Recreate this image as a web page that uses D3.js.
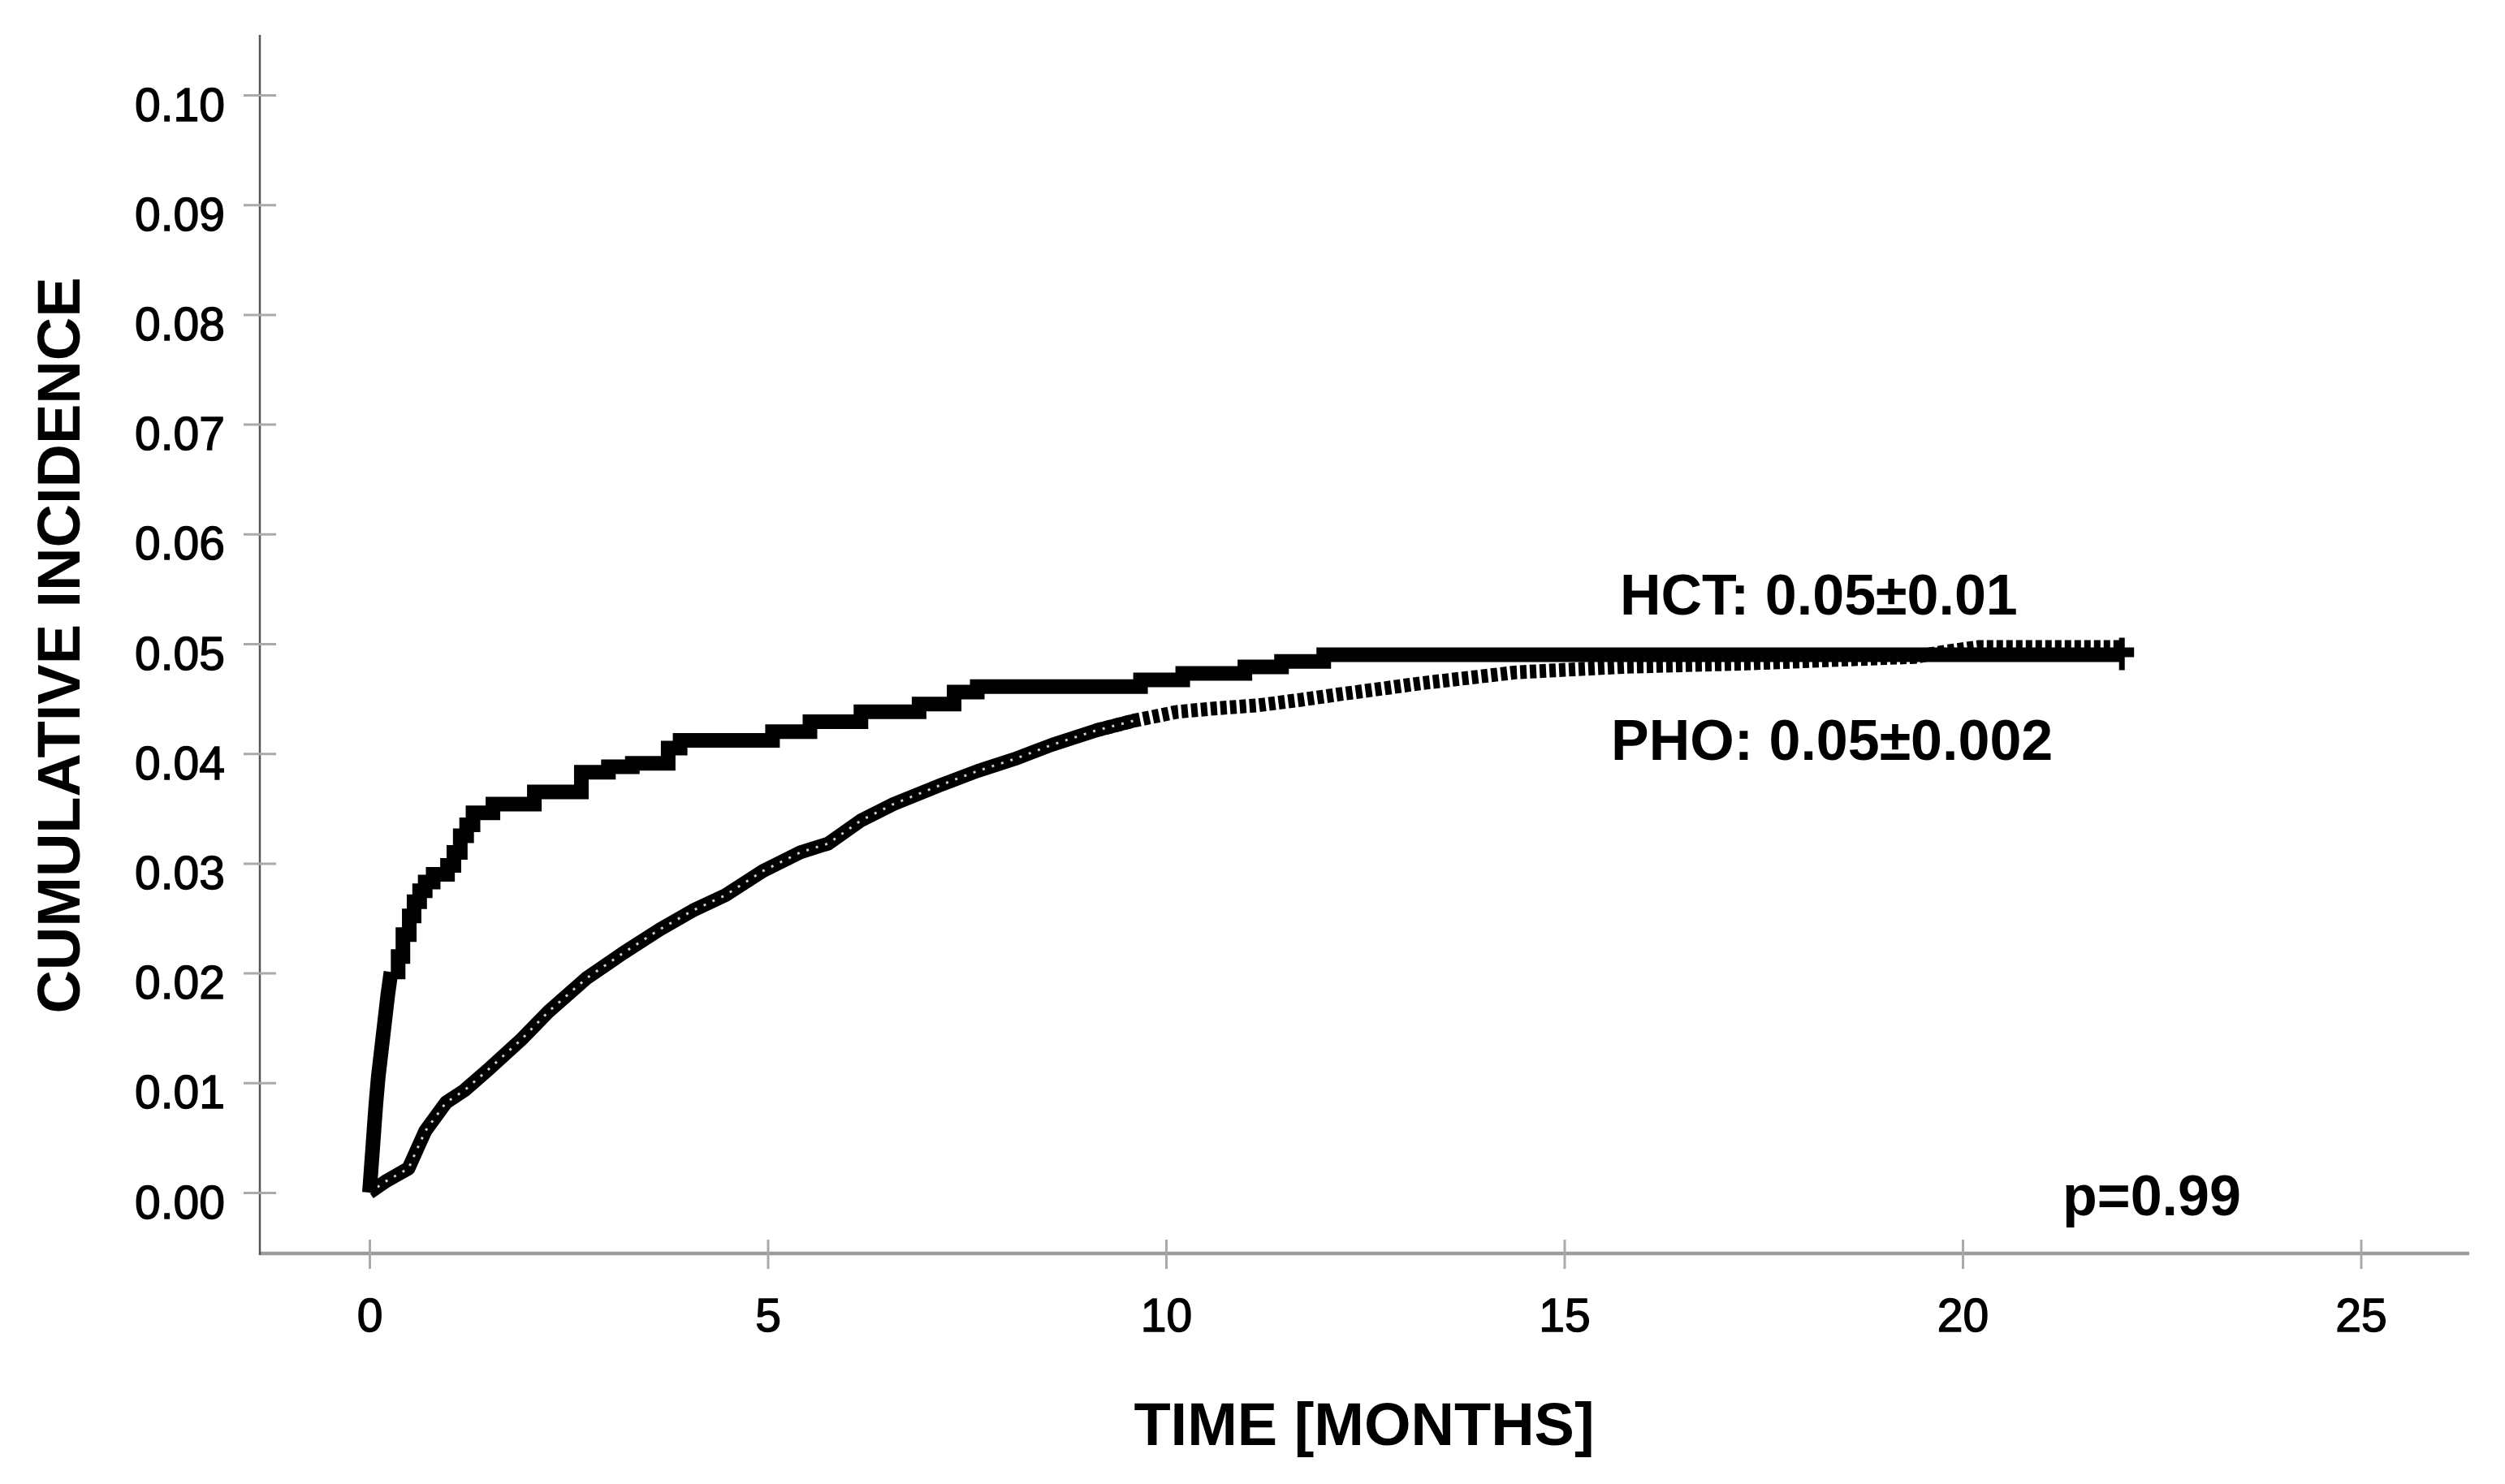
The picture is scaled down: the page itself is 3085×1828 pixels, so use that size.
<!DOCTYPE html>
<html>
<head>
<meta charset="utf-8">
<script src="https://cdn.jsdelivr.net/npm/d3@7"></script>
<style>
html,body{margin:0;padding:0;background:#fff;}
svg{display:block;}
</style>
</head>
<body>
<svg id="chart" width="3085" height="1828"></svg>
<script>
// ---- data ----
const hctTime  = [0, 0.02, 0.05, 0.08, 0.11, 0.15, 0.19, 0.23, 0.27, 0.36, 0.42, 0.50, 0.56, 0.63, 0.70, 0.80, 0.98, 1.06, 1.14, 1.22, 1.30, 1.55, 2.07, 2.66, 3.00, 3.30, 3.75, 3.90, 5.06, 5.53, 6.17, 6.90, 7.34, 7.63, 9.68, 10.21, 10.99, 11.45, 11.98, 22.0];
const hctValue = [0, 0.002, 0.005, 0.008, 0.0105, 0.013, 0.0155, 0.018, 0.0201, 0.0215, 0.0235, 0.0252, 0.0265, 0.0275, 0.0283, 0.0290, 0.0298, 0.0310, 0.0325, 0.0335, 0.0346, 0.0354, 0.0365, 0.0383, 0.0388, 0.0391, 0.0405, 0.0412, 0.0420, 0.0429, 0.0438, 0.0445, 0.0456, 0.0461, 0.0467, 0.0473, 0.0479, 0.0484, 0.0490, 0.0490];

const phoTime  = [0, 0.20, 0.49, 0.70, 0.96, 1.19, 1.49, 1.90, 2.25, 2.72, 3.18, 3.65, 4.06, 4.47, 4.94, 5.41, 5.76, 6.17, 6.58, 7.16, 7.63, 8.10, 8.57, 9.12, 9.60, 10.14, 10.60, 11.16, 11.70, 12.18, 12.70, 13.20, 14.40, 15.75, 17.28, 18.30, 19.40, 19.80, 20.20, 22.0];
const phoValue = [0, 0.0010, 0.0022, 0.0056, 0.0082, 0.0093, 0.0112, 0.0139, 0.0165, 0.0195, 0.0218, 0.0240, 0.0257, 0.0271, 0.0293, 0.0310, 0.0318, 0.0339, 0.0354, 0.0371, 0.0384, 0.0395, 0.0408, 0.0421, 0.0430, 0.0438, 0.0441, 0.0444, 0.0449, 0.0454, 0.0459, 0.0464, 0.0474, 0.0479, 0.0482, 0.0485, 0.0488, 0.0493, 0.0497, 0.0497];

const xTicks = [0, 5, 10, 15, 20, 25];
const yTicks = [0.00, 0.01, 0.02, 0.03, 0.04, 0.05, 0.06, 0.07, 0.08, 0.09, 0.10];
const xTitle = "TIME [MONTHS]";
const yTitle = "CUMULATIVE INCIDENCE";
const hctLabel = "HCT: 0.05\u00B10.01";
const phoLabel = "PHO: 0.05\u00B10.002";
const pLabel = "p=0.99";
const endTime = 22;

// ---- drawing ----
const FONT = "'Liberation Sans', Arial, Helvetica, sans-serif";
const svg = d3.select("#chart");
svg.append("rect").attr("width", 3085).attr("height", 1828).attr("fill", "#fff");

const x = d3.scaleLinear().domain([0, 25]).range([455, 2907.5]);
const y = d3.scaleLinear().domain([0, 0.10]).range([1469, 117]);

const axisX0 = 320, axisY0 = 1544;

// axis lines
svg.append("line").attr("x1", axisX0).attr("x2", 3041).attr("y1", axisY0).attr("y2", axisY0)
  .attr("stroke", "#9c9c9c").attr("stroke-width", 4.5);
svg.append("line").attr("x1", axisX0).attr("x2", axisX0).attr("y1", 43).attr("y2", axisY0 + 2)
  .attr("stroke", "#555").attr("stroke-width", 2.5);

// y axis
const gy = svg.append("g").attr("transform", `translate(${axisX0},0)`)
  .call(d3.axisLeft(y).tickValues(yTicks).tickFormat(d3.format(".2f")).tickSize(20).tickPadding(23));
gy.select(".domain").remove();
gy.attr("font-family", FONT).attr("font-size", 57);
gy.selectAll(".tick line").attr("x1", 20).attr("stroke", "#aaa").attr("stroke-width", 3);
gy.selectAll(".tick text").attr("dy", 0).attr("y", 31).attr("fill", "#000")
  .attr("stroke", "#000").attr("stroke-width", 1.4);

// x axis
const gx = svg.append("g").attr("transform", `translate(0,${axisY0})`)
  .call(d3.axisBottom(x).tickValues(xTicks).tickFormat(d3.format("d")).tickSize(19));
gx.select(".domain").remove();
gx.attr("font-family", FONT).attr("font-size", 57);
gx.selectAll(".tick line").attr("y1", -17).attr("stroke", "#aaa").attr("stroke-width", 3);
gx.selectAll(".tick text").attr("dy", 0).attr("y", 96).attr("fill", "#000")
  .attr("stroke", "#000").attr("stroke-width", 1.4);

// titles
svg.append("text").attr("x", 1680).attr("y", 1780).attr("text-anchor", "middle")
  .attr("font-family", FONT).attr("font-weight", "bold").attr("font-size", 74).text(xTitle);
svg.append("text").attr("transform", "translate(98,795) rotate(-90)").attr("text-anchor", "middle")
  .attr("font-family", FONT).attr("font-weight", "bold").attr("font-size", 74).text(yTitle);

// data
const hct = hctTime.map((t, i) => ({t, v: hctValue[i]}));
const pho = phoTime.map((t, i) => ({t, v: phoValue[i]}));

const stepLine = d3.line().x(d => x(d.t)).y(d => y(d.v)).curve(d3.curveStepAfter);
const linLine = d3.line().x(d => x(d.t)).y(d => y(d.v)).curve(d3.curveLinear);

const curves = svg.append("g");

// PHO: chain part (dense censoring, drawn as thick line with small white holes)
const phoChain = pho.filter(d => d.t <= 9.6);
const phoComb = pho.filter(d => d.t >= 9.12);
curves.append("path").datum(phoChain).attr("d", linLine)
  .attr("fill", "none").attr("stroke", "#000").attr("stroke-width", 17).attr("stroke-linejoin", "round");
curves.append("path").datum(phoChain).attr("d", linLine)
  .attr("fill", "none").attr("stroke", "#fff").attr("stroke-opacity", 0.8).attr("stroke-width", 3)
  .attr("stroke-dasharray", "3 9");
// PHO: comb part (censor ticks)
curves.append("path").datum(phoComb).attr("d", linLine)
  .attr("fill", "none").attr("stroke", "#000").attr("stroke-width", 17).attr("stroke-dasharray", "8 4");

// HCT: steep early part (many tiny steps, appears as a line) + visible step part
const hctEarly = hct.filter(d => d.t <= 0.27);
const hctLate = hct.filter(d => d.t >= 0.27);
curves.append("path").datum(hctEarly).attr("d", linLine)
  .attr("fill", "none").attr("stroke", "#000").attr("stroke-width", 18)
  .attr("stroke-linejoin", "round");
curves.append("path").datum(hctLate).attr("d", stepLine)
  .attr("fill", "none").attr("stroke", "#000").attr("stroke-width", 18)
  .attr("stroke-linejoin", "miter");

// end censor marker
const ex = x(endTime), ey = y(hctValue[hctValue.length - 1]);
curves.append("line").attr("x1", ex).attr("x2", ex).attr("y1", ey - 21).attr("y2", ey + 19)
  .attr("stroke", "#000").attr("stroke-width", 7);
curves.append("line").attr("x1", ex).attr("x2", ex + 15).attr("y1", ey - 3).attr("y2", ey - 3)
  .attr("stroke", "#000").attr("stroke-width", 12);

// annotations
svg.append("text").attr("x", 1995).attr("y", 757).attr("font-family", FONT).attr("font-weight", "bold")
  .attr("font-size", 70).text(hctLabel);
svg.append("text").attr("x", 1984).attr("y", 936).attr("font-family", FONT).attr("font-weight", "bold")
  .attr("font-size", 70).text(phoLabel);
svg.append("text").attr("x", 2540).attr("y", 1497).attr("font-family", FONT).attr("font-weight", "bold")
  .attr("font-size", 70).text(pLabel);
</script>
</body>
</html>
